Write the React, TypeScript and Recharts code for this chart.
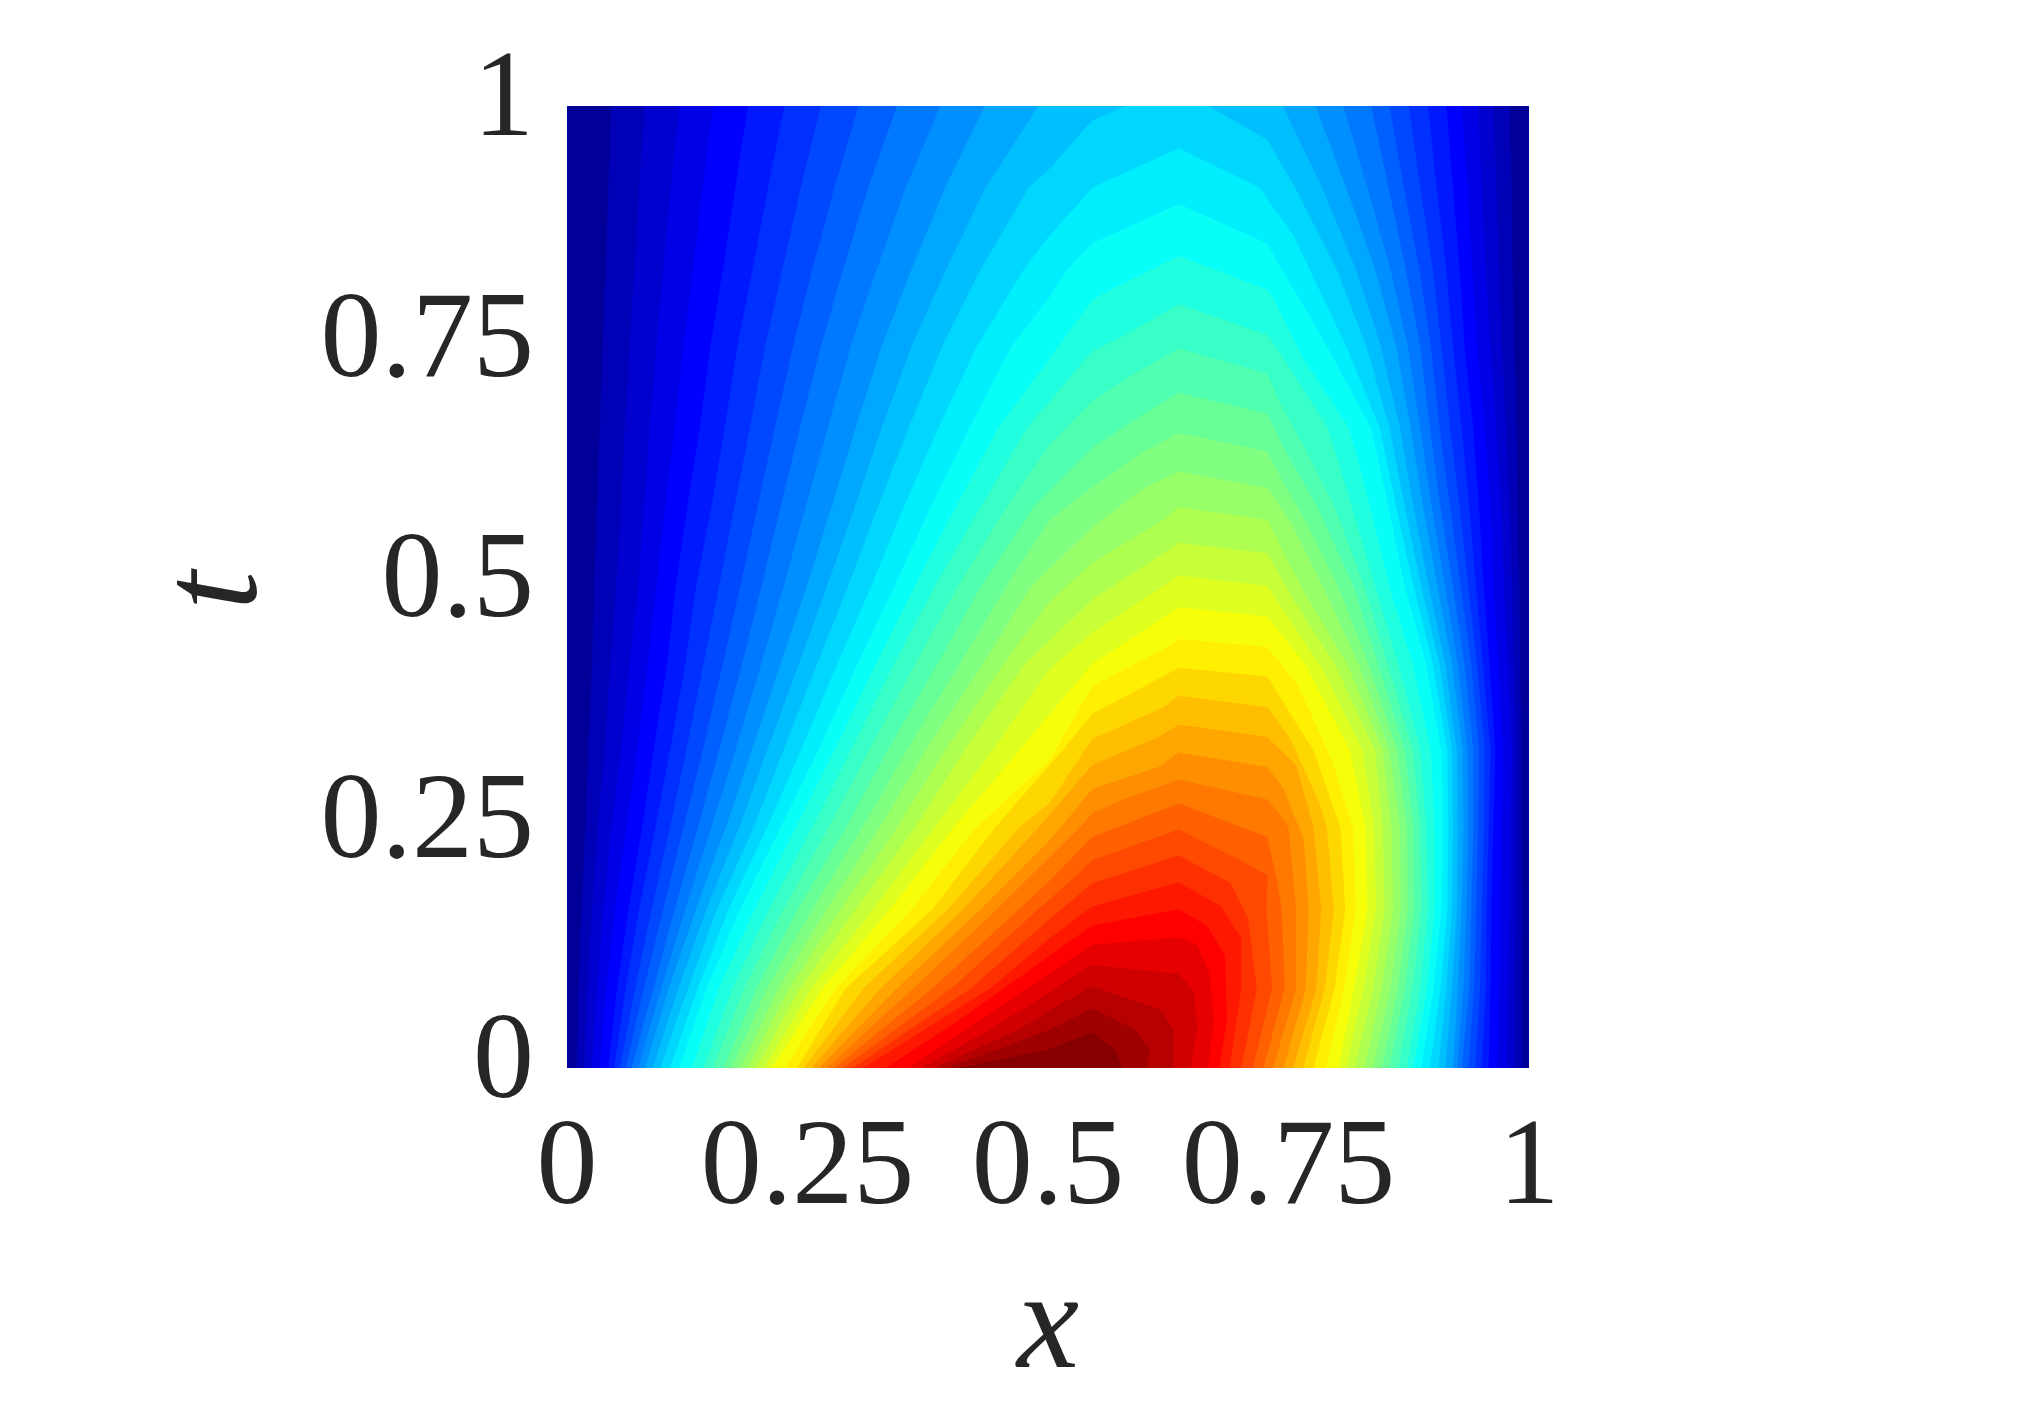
import { ComposedChart, Area, XAxis, YAxis } from 'recharts'

// contour levels are named after the jet colour index they start at, h = half step
// t rows shared by the low contours, which run the full height of the plot
const rowsFull = [0, 0.083, 0.165, 0.25, 0.33, 0.42, 0.5, 0.583, 0.665, 0.75, 0.83, 0.915, 1]

const left02 = [0.01, 0.012, 0.015, 0.019, 0.022, 0.026, 0.028, 0.031, 0.034, 0.037, 0.04, 0.043, 0.046]
const right02 = [0.993, 0.992, 0.993, 0.992, 0.992, 0.991, 0.99, 0.988, 0.987, 0.985, 0.983, 0.982, 0.98]
const left03h = [0.018, 0.021, 0.026, 0.032, 0.039, 0.045, 0.051, 0.056, 0.06, 0.065, 0.07, 0.075, 0.081]
const right03h = [0.985, 0.985, 0.986, 0.986, 0.987, 0.984, 0.982, 0.98, 0.976, 0.972, 0.969, 0.966, 0.963]
const left05 = [0.026, 0.031, 0.038, 0.046, 0.056, 0.065, 0.074, 0.08, 0.086, 0.093, 0.1, 0.108, 0.117]
const right05 = [0.977, 0.978, 0.98, 0.981, 0.982, 0.978, 0.974, 0.971, 0.966, 0.96, 0.955, 0.951, 0.947]
const left06h = [0.034, 0.041, 0.05, 0.062, 0.073, 0.084, 0.093, 0.102, 0.112, 0.121, 0.131, 0.141, 0.152]
const right06h = [0.967, 0.969, 0.97, 0.972, 0.973, 0.968, 0.963, 0.96, 0.954, 0.946, 0.941, 0.936, 0.93]
const left08 = [0.043, 0.052, 0.064, 0.078, 0.09, 0.104, 0.113, 0.125, 0.138, 0.149, 0.162, 0.175, 0.188]
const right08 = [0.958, 0.96, 0.961, 0.963, 0.965, 0.959, 0.953, 0.948, 0.942, 0.933, 0.928, 0.921, 0.914]
const left09h = [0.049, 0.061, 0.075, 0.092, 0.107, 0.123, 0.134, 0.15, 0.164, 0.177, 0.193, 0.209, 0.226]
const right09h = [0.951, 0.955, 0.956, 0.958, 0.96, 0.952, 0.945, 0.938, 0.93, 0.921, 0.914, 0.904, 0.895]
const left11 = [0.055, 0.071, 0.088, 0.107, 0.124, 0.142, 0.158, 0.174, 0.19, 0.206, 0.224, 0.243, 0.264]
const right11 = [0.944, 0.949, 0.951, 0.953, 0.954, 0.946, 0.937, 0.928, 0.918, 0.909, 0.9, 0.887, 0.875]
const left12h = [0.061, 0.08, 0.1, 0.121, 0.141, 0.162, 0.18, 0.198, 0.216, 0.235, 0.255, 0.278, 0.303]
const right12h = [0.937, 0.943, 0.945, 0.947, 0.948, 0.94, 0.929, 0.918, 0.907, 0.898, 0.886, 0.87, 0.855]
const left14 = [0.067, 0.09, 0.112, 0.136, 0.158, 0.182, 0.202, 0.222, 0.242, 0.264, 0.287, 0.313, 0.343]
const right14 = [0.93, 0.938, 0.94, 0.942, 0.942, 0.933, 0.921, 0.908, 0.897, 0.887, 0.872, 0.854, 0.836]
const left15h = [0.074, 0.098, 0.123, 0.15, 0.175, 0.202, 0.225, 0.248, 0.271, 0.295, 0.322, 0.352, 0.388]
const right15h = [0.925, 0.932, 0.935, 0.937, 0.936, 0.926, 0.913, 0.899, 0.887, 0.874, 0.856, 0.832, 0.807]
const left17 = [0.081, 0.106, 0.134, 0.165, 0.192, 0.222, 0.249, 0.275, 0.3, 0.327, 0.358, 0.393, 0.434]
const right17 = [0.921, 0.926, 0.93, 0.932, 0.931, 0.92, 0.905, 0.89, 0.877, 0.862, 0.84, 0.81, 0.778]
const left18h = [0.089, 0.116, 0.145, 0.179, 0.208, 0.241, 0.27, 0.299, 0.327, 0.358, 0.394, 0.435, 0.49]
const right18h = [0.913, 0.92, 0.925, 0.926, 0.925, 0.913, 0.896, 0.88, 0.866, 0.846, 0.82, 0.785, 0.744]

// higher contours close over the peak, so each has its own rows
const rows20 = [0, 0.083, 0.165, 0.25, 0.33, 0.42, 0.5, 0.583, 0.665, 0.75, 0.83, 0.915, 0.935, 0.965, 0.985, 1]
const left20 = [0.097, 0.126, 0.156, 0.194, 0.225, 0.26, 0.292, 0.323, 0.355, 0.39, 0.43, 0.48, 0.502, 0.528, 0.546, 0.58]
const right20 = [0.906, 0.914, 0.92, 0.921, 0.92, 0.907, 0.888, 0.871, 0.855, 0.831, 0.8, 0.757, 0.745, 0.728, 0.693, 0.667]
const rows21h = [0, 0.083, 0.165, 0.25, 0.33, 0.42, 0.5, 0.583, 0.665, 0.75, 0.83, 0.866, 0.903, 0.915, 0.956]
const left21h = [0.107, 0.136, 0.168, 0.208, 0.243, 0.281, 0.316, 0.35, 0.386, 0.426, 0.475, 0.502, 0.536, 0.546, 0.636]
const right21h = [0.897, 0.908, 0.915, 0.916, 0.915, 0.9, 0.88, 0.862, 0.845, 0.81, 0.772, 0.755, 0.728, 0.72, 0.636]
const rows23 = [0, 0.083, 0.165, 0.25, 0.33, 0.42, 0.5, 0.583, 0.665, 0.75, 0.802, 0.83, 0.857, 0.898]
const left23 = [0.117, 0.145, 0.18, 0.222, 0.261, 0.302, 0.34, 0.378, 0.418, 0.462, 0.502, 0.52, 0.546, 0.636]
const right23 = [0.888, 0.901, 0.909, 0.911, 0.909, 0.893, 0.871, 0.854, 0.836, 0.79, 0.76, 0.743, 0.728, 0.636]
const rows24h = [0, 0.083, 0.165, 0.25, 0.33, 0.42, 0.5, 0.583, 0.665, 0.738, 0.798, 0.809, 0.844]
const left24h = [0.13, 0.158, 0.195, 0.238, 0.278, 0.321, 0.361, 0.404, 0.448, 0.502, 0.546, 0.565, 0.636]
const right24h = [0.88, 0.894, 0.902, 0.902, 0.898, 0.879, 0.855, 0.835, 0.813, 0.765, 0.735, 0.728, 0.636]
const rows26 = [0, 0.083, 0.165, 0.25, 0.33, 0.42, 0.5, 0.583, 0.665, 0.745, 0.762, 0.794]
const left26 = [0.142, 0.172, 0.21, 0.255, 0.295, 0.34, 0.382, 0.43, 0.478, 0.546, 0.58, 0.636]
const right26 = [0.873, 0.887, 0.895, 0.893, 0.887, 0.864, 0.84, 0.816, 0.791, 0.74, 0.728, 0.636]
const rows27h = [0, 0.083, 0.165, 0.25, 0.33, 0.42, 0.5, 0.583, 0.648, 0.693, 0.722, 0.748]
const left27h = [0.152, 0.184, 0.225, 0.272, 0.314, 0.362, 0.406, 0.457, 0.502, 0.546, 0.59, 0.636]
const right27h = [0.864, 0.879, 0.888, 0.887, 0.879, 0.853, 0.829, 0.798, 0.765, 0.74, 0.728, 0.636]
const rows29 = [0, 0.083, 0.165, 0.25, 0.33, 0.42, 0.5, 0.583, 0.645, 0.68, 0.702]
const left29 = [0.163, 0.197, 0.24, 0.29, 0.333, 0.385, 0.43, 0.485, 0.546, 0.6, 0.636]
const right29 = [0.855, 0.871, 0.881, 0.88, 0.871, 0.843, 0.818, 0.78, 0.745, 0.728, 0.636]
const rows30h = [0, 0.083, 0.165, 0.25, 0.33, 0.42, 0.5, 0.57, 0.604, 0.641, 0.66]
const left30h = [0.171, 0.208, 0.255, 0.307, 0.353, 0.408, 0.456, 0.502, 0.546, 0.6, 0.636]
const right30h = [0.847, 0.864, 0.874, 0.873, 0.863, 0.833, 0.802, 0.767, 0.747, 0.728, 0.636]
const rows32 = [0, 0.083, 0.165, 0.25, 0.33, 0.42, 0.5, 0.562, 0.603, 0.62]
const left32 = [0.18, 0.22, 0.27, 0.325, 0.373, 0.432, 0.482, 0.546, 0.6, 0.636]
const right32 = [0.838, 0.856, 0.867, 0.866, 0.855, 0.823, 0.786, 0.755, 0.728, 0.636]
const rows33h = [0, 0.083, 0.165, 0.25, 0.33, 0.42, 0.485, 0.525, 0.57, 0.583]
const left33h = [0.188, 0.231, 0.285, 0.343, 0.393, 0.454, 0.502, 0.546, 0.62, 0.636]
const right33h = [0.829, 0.847, 0.859, 0.857, 0.848, 0.811, 0.772, 0.75, 0.728, 0.636]
const rows35 = [0, 0.083, 0.165, 0.25, 0.33, 0.42, 0.487, 0.535, 0.546]
const left35 = [0.197, 0.242, 0.3, 0.362, 0.413, 0.476, 0.546, 0.62, 0.636]
const right35 = [0.819, 0.838, 0.85, 0.848, 0.84, 0.798, 0.755, 0.728, 0.636]
const rows36h = [0, 0.083, 0.165, 0.25, 0.33, 0.415, 0.453, 0.501, 0.512]
const left36h = [0.205, 0.254, 0.318, 0.382, 0.442, 0.502, 0.546, 0.62, 0.636]
const right36h = [0.81, 0.828, 0.841, 0.839, 0.827, 0.785, 0.76, 0.728, 0.636]
const rows38 = [0, 0.083, 0.165, 0.25, 0.33, 0.42, 0.469, 0.479]
const left38 = [0.213, 0.266, 0.336, 0.402, 0.47, 0.546, 0.621, 0.636]
const right38 = [0.802, 0.818, 0.832, 0.83, 0.814, 0.767, 0.728, 0.636]
const rows39h = [0, 0.083, 0.165, 0.25, 0.32, 0.397, 0.438, 0.446]
const left39h = [0.226, 0.28, 0.358, 0.425, 0.502, 0.546, 0.625, 0.636]
const right39h = [0.789, 0.808, 0.82, 0.817, 0.795, 0.76, 0.728, 0.636]
const rows41 = [0, 0.083, 0.165, 0.25, 0.33, 0.368, 0.407, 0.416]
const left41 = [0.239, 0.29, 0.38, 0.445, 0.515, 0.546, 0.619, 0.636]
const right41 = [0.776, 0.798, 0.809, 0.804, 0.776, 0.752, 0.728, 0.636]
const rows42h = [0, 0.083, 0.165, 0.25, 0.276, 0.342, 0.375, 0.387]
const left42h = [0.246, 0.308, 0.396, 0.47, 0.502, 0.546, 0.62, 0.636]
const right42h = [0.765, 0.788, 0.797, 0.79, 0.782, 0.752, 0.728, 0.636]
const rows44 = [0, 0.083, 0.165, 0.25, 0.315, 0.344, 0.357]
const left44 = [0.254, 0.326, 0.412, 0.49, 0.546, 0.615, 0.636]
const right44 = [0.755, 0.779, 0.784, 0.776, 0.758, 0.728, 0.636]
const rows45h = [0, 0.083, 0.165, 0.237, 0.29, 0.313, 0.328]
const left45h = [0.262, 0.343, 0.43, 0.502, 0.546, 0.615, 0.636]
const right45h = [0.745, 0.768, 0.771, 0.766, 0.745, 0.728, 0.636]
const rows47 = [0, 0.083, 0.165, 0.25, 0.265, 0.279, 0.3]
const left47 = [0.27, 0.36, 0.447, 0.533, 0.546, 0.578, 0.636]
const right47 = [0.734, 0.758, 0.758, 0.75, 0.74, 0.728, 0.636]
const rows48h = [0, 0.083, 0.165, 0.195, 0.24, 0.275]
const left48h = [0.278, 0.38, 0.47, 0.502, 0.546, 0.636]
const right48h = [0.724, 0.746, 0.743, 0.738, 0.728, 0.636]
const rows50 = [0, 0.083, 0.165, 0.2, 0.216, 0.248]
const left50 = [0.287, 0.4, 0.49, 0.53, 0.546, 0.636]
const right50 = [0.713, 0.733, 0.727, 0.728, 0.7, 0.636]
const rows51h = [0, 0.083, 0.155, 0.192, 0.221]
const left51h = [0.297, 0.42, 0.502, 0.546, 0.636]
const right51h = [0.701, 0.717, 0.708, 0.69, 0.636]
const rows53 = [0, 0.083, 0.135, 0.168, 0.193]
const left53 = [0.308, 0.44, 0.502, 0.546, 0.636]
const right53 = [0.689, 0.701, 0.701, 0.68, 0.636]
const rows54h = [0, 0.05, 0.117, 0.148, 0.165]
const left54h = [0.331, 0.408, 0.502, 0.546, 0.636]
const right54h = [0.678, 0.686, 0.684, 0.665, 0.636]
const rows56 = [0, 0.05, 0.098, 0.128, 0.136]
const left56 = [0.355, 0.43, 0.502, 0.546, 0.636]
const right56 = [0.667, 0.672, 0.668, 0.655, 0.636]
const rows57h = [0, 0.04, 0.079, 0.098, 0.107]
const left57h = [0.368, 0.44, 0.502, 0.53, 0.546]
const right57h = [0.648, 0.655, 0.652, 0.636, 0.546]
const rows59 = [0, 0.04, 0.06, 0.085]
const left59 = [0.381, 0.47, 0.502, 0.546]
const right59 = [0.63, 0.63, 0.618, 0.546]
const rows60h = [0, 0.02, 0.04, 0.062]
const left60h = [0.393, 0.45, 0.502, 0.546]
const right60h = [0.603, 0.606, 0.59, 0.546]
const rows62 = [0, 0.019, 0.037]
const left62 = [0.405, 0.5, 0.546]
const right62 = [0.577, 0.57, 0.546]

const tickValues = [0, 0.25, 0.5, 0.75, 1]
const tickLabels = ['0', '0.25', '0.5', '0.75', '1']

const TEXT = '#262626'
const FONT = '"Liberation Serif", serif'
const NAVY = '#000098'

const contours: any[] = [
  [rowsFull, left02, right02, '#0000B7'],
  [rowsFull, left03h, right03h, '#0000CF'],
  [rowsFull, left05, right05, '#0000E7'],
  [rowsFull, left06h, right06h, '#0000FF'],
  [rowsFull, left08, right08, '#0018FF'],
  [rowsFull, left09h, right09h, '#0030FF'],
  [rowsFull, left11, right11, '#0048FF'],
  [rowsFull, left12h, right12h, '#0060FF'],
  [rowsFull, left14, right14, '#0078FF'],
  [rowsFull, left15h, right15h, '#008FFF'],
  [rowsFull, left17, right17, '#00A7FF'],
  [rowsFull, left18h, right18h, '#00BFFF'],
  [rows20, left20, right20, '#00D7FF'],
  [rows21h, left21h, right21h, '#00EFFF'],
  [rows23, left23, right23, '#08FFF7'],
  [rows24h, left24h, right24h, '#20FFDF'],
  [rows26, left26, right26, '#38FFC7'],
  [rows27h, left27h, right27h, '#50FFAF'],
  [rows29, left29, right29, '#68FF97'],
  [rows30h, left30h, right30h, '#80FF80'],
  [rows32, left32, right32, '#97FF68'],
  [rows33h, left33h, right33h, '#AFFF50'],
  [rows35, left35, right35, '#C7FF38'],
  [rows36h, left36h, right36h, '#DFFF20'],
  [rows38, left38, right38, '#F7FF08'],
  [rows39h, left39h, right39h, '#FFEF00'],
  [rows41, left41, right41, '#FFD700'],
  [rows42h, left42h, right42h, '#FFBF00'],
  [rows44, left44, right44, '#FFA700'],
  [rows45h, left45h, right45h, '#FF8F00'],
  [rows47, left47, right47, '#FF7800'],
  [rows48h, left48h, right48h, '#FF6000'],
  [rows50, left50, right50, '#FF4800'],
  [rows51h, left51h, right51h, '#FF3000'],
  [rows53, left53, right53, '#FF1800'],
  [rows54h, left54h, right54h, '#FF0000'],
  [rows56, left56, right56, '#E70000'],
  [rows57h, left57h, right57h, '#CF0000'],
  [rows59, left59, right59, '#B70000'],
  [rows60h, left60h, right60h, '#9F0000'],
  [rows62, left62, right62, '#870000'],
]

const range = (d: any) => [d.left, d.right]

function XTick({ x, y, payload }: any) {
  return (
    <text x={x} y={y + 135} textAnchor="middle" fontSize={122} fontFamily={FONT} fill={TEXT}>
      {tickLabels[tickValues.indexOf(payload.value)]}
    </text>
  )
}

function YTick({ x, y, payload }: any) {
  return (
    <text x={x - 33} y={y + 29} textAnchor="end" fontSize={122} fontFamily={FONT} fill={TEXT}>
      {tickLabels[tickValues.indexOf(payload.value)]}
    </text>
  )
}

export default function App() {
  return (
    <div style={{ position: 'absolute', left: 0, top: 0 }}>
      <ComposedChart
        width={2025}
        height={1414}
        layout="vertical"
        margin={{ top: 106, right: 496, bottom: 46, left: 167 }}
      >
        <XAxis
          type="number"
          domain={[0, 1]}
          ticks={tickValues}
          interval={0}
          height={300}
          axisLine={false}
          tickLine={false}
          tickSize={0}
          tickMargin={0}
          tick={<XTick />}
          label={{ value: 'x', position: 'insideBottom', offset: 1, fontSize: 140, fontStyle: 'italic', fontFamily: FONT, fill: TEXT }}
        />
        <YAxis
          type="number"
          dataKey="t"
          domain={[0, 1]}
          ticks={tickValues}
          interval={0}
          width={400}
          axisLine={false}
          tickLine={false}
          tickSize={0}
          tickMargin={0}
          reversed
          tick={<YTick />}
          label={{ value: 't', angle: -90, position: 'insideLeft', offset: 39, dy: 23, fontSize: 140, fontStyle: 'italic', fontFamily: FONT, fill: TEXT }}
        />
        <Area
          data={[{ t: 0, left: 0, right: 1 }, { t: 1, left: 0, right: 1 }]}
          dataKey={range}
          type="linear"
          fill={NAVY}
          fillOpacity={1}
          stroke="none"
          dot={false}
          activeDot={false}
          isAnimationActive={false}
        />
        {contours.map(([rows, left, right, color]) => (
          <Area
            key={color}
            data={rows.map((t: number, i: number) => ({ t, left: left[i], right: right[i] }))}
            dataKey={range}
            type="linear"
            fill={color}
            fillOpacity={1}
            stroke="none"
            dot={false}
            activeDot={false}
            isAnimationActive={false}
          />
        ))}
      </ComposedChart>
    </div>
  )
}
